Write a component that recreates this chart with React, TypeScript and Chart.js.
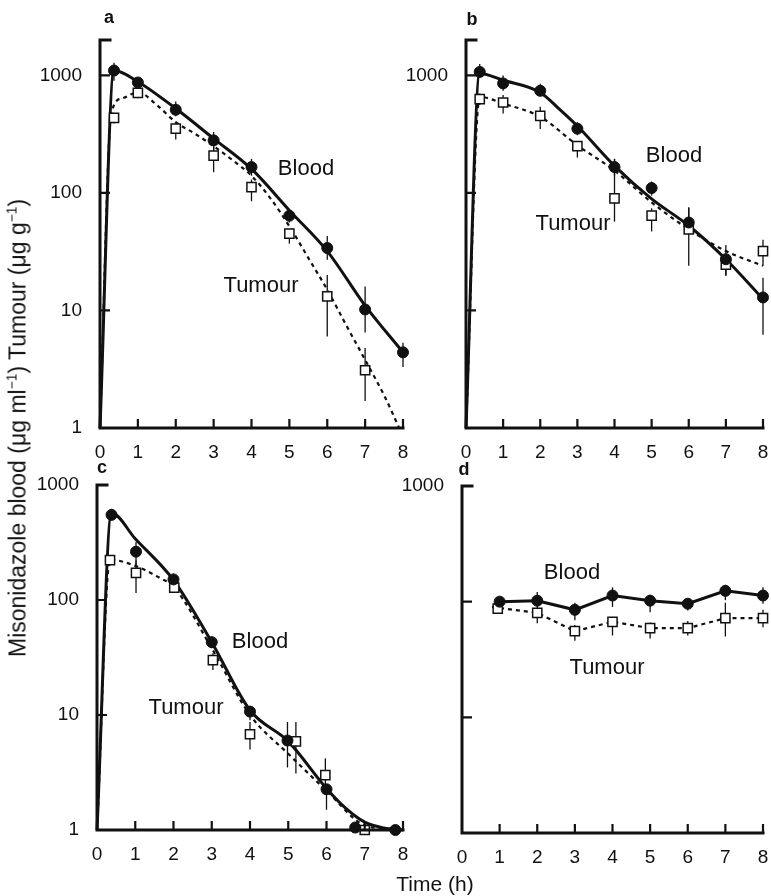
import React, { useEffect, useRef } from "react";
import { Chart, registerables } from "chart.js";
Chart.register(...registerables);

const INK = "#111";
const FONT = "'Liberation Sans', Arial, Helvetica, sans-serif";

const xTicks = [0, 1, 2, 3, 4, 5, 6, 7, 8];
const xTickLabels = ["0", "1", "2", "3", "4", "5", "6", "7", "8"];
const yTicks = [1, 10, 100, 1000];
const yLabelsFull = ["1", "10", "100", "1000"];
const yLabelsTop = ["", "", "", "1000"];

// ---- Panel a ----
const aBloodT = [0.37, 1, 2, 3, 4, 5, 6, 7, 8];
const aBlood = [1100, 870, 510, 280, 166, 64, 34, 10.2, 4.4];
const aBloodLo = [900, 800, 450, 230, 140, 56, 27, 6.5, 3.3];
const aBloodHi = [1280, 950, 600, 330, 195, 72, 43, 16, 5.3];
const aTumourT = [0.37, 1, 2, 3, 4, 5, 6, 7];
const aTumour = [435, 710, 352, 208, 112, 45, 13.2, 3.1];
const aTumourLo = [390, 640, 285, 150, 85, 37, 6, 1.7];
const aTumourHi = [480, 760, 390, 300, 130, 49, 20, 4.8];
const aBloodCurveT = [0, 0.37, 1, 2, 3, 4, 5, 6, 7, 8];
const aBloodCurve = [1, 1100, 884, 522, 290, 160, 71, 32, 11, 4.4];
const aTumourCurveT = [0, 0.3, 0.6, 1, 1.5, 2, 2.5, 3, 3.5, 4, 4.5, 5, 5.5, 6, 6.5, 7, 7.5, 7.9];
const aTumourCurve = [1, 480, 640, 720, 560, 400, 320, 250, 190, 140, 90, 52, 28, 15, 7.5, 3.8, 1.9, 1];

// ---- Panel b ----
const bBloodT = [0.37, 1, 2, 3, 4, 5, 6, 7, 8];
const bBlood = [1070, 855, 740, 352, 166, 110, 56, 27.3, 12.9];
const bBloodLo = [950, 740, 660, 310, 140, 95, 45, 19.6, 6.2];
const bBloodHi = [1250, 1000, 850, 400, 195, 125, 75, 36, 19];
const bTumourT = [0.37, 1, 2, 3, 4, 5, 6, 7, 8];
const bTumour = [628, 588, 452, 250, 90, 64, 49, 24.5, 32];
const bTumourLo = [560, 475, 350, 200, 57, 47, 24, 20, 24];
const bTumourHi = [700, 680, 540, 270, 195, 74, 75, 30, 40];
const bBloodCurveT = [0, 0.37, 1, 2, 2.5, 3, 4, 5, 6, 7, 8];
const bBloodCurve = [1, 1040, 910, 716, 522, 371, 170, 89, 52.6, 27.3, 12.5];
const bTumourCurveT = [0, 0.37, 1, 2, 3, 4, 5, 6, 7, 8];
const bTumourCurve = [1, 657, 576, 444, 254, 155, 83, 49, 32, 24];

// ---- Panel c ----
const cBloodT = [0.38, 1.02, 2, 3, 4, 4.98, 6, 6.75, 7.8];
const cBlood = [550, 263, 151, 43, 10.7, 6, 2.26, 1.05, 1.0];
const cBloodLo = [490, 200, 135, 38, 9, 3.5, 1.5, 1, 1];
const cBloodHi = [620, 320, 170, 48, 12, 8.7, 2.4, 1.1, 1.05];
const cTumourT = [0.34, 1.02, 2.02, 3.03, 4, 5.2, 5.97, 7];
const cTumour = [222, 172, 128, 30, 6.8, 5.9, 3.0, 1.0];
const cTumourLo = [200, 115, 115, 24.6, 5, 3.1, 2.1, 1];
const cTumourHi = [245, 220, 140, 34.5, 8.7, 8.7, 4.2, 1.1];
const cBloodCurveT = [0, 0.38, 1, 2, 3, 4, 5, 6, 6.5, 7, 7.5, 8];
const cBloodCurve = [1, 571, 341, 149, 43, 11, 5.9, 2.3, 1.55, 1.17, 1.04, 1.0];
const cTumourCurveT = [0, 0.34, 1, 1.65, 2, 3, 4, 5, 6, 7, 8];
const cTumourCurve = [1, 224, 198, 155, 131, 38, 10, 4.6, 2.2, 1.1, 1.0];

// ---- Panel d ----
const dBloodT = [1, 2, 3, 4, 5, 6, 7, 8];
const dBlood = [100, 102, 85, 113, 102, 96, 124, 113];
const dBloodLo = [92, 85, 69, 90, 81, 84, 103, 96];
const dBloodHi = [110, 121, 98, 133, 115, 106, 140, 133];
const dTumourT = [0.95, 2, 3, 4, 5, 6, 7, 8];
const dTumour = [87, 80, 55.6, 67, 59, 59, 72, 72];
const dTumourLo = [82, 65, 46, 51, 48, 51, 50, 60];
const dTumourHi = [92, 88, 63, 74, 66, 68, 98, 85];
const dBloodCurveT = [1, 2, 3, 4, 5, 6, 7, 8];
const dBloodCurve = [100, 102, 85, 113, 102, 96, 124, 113];
const dTumourCurveT = [0.8, 2, 3, 4, 5, 6, 7, 8];
const dTumourCurve = [90, 80, 55.6, 67, 59, 59, 72, 72];

const Y_AXIS_W = 60;
const X_AXIS_H = 30;

const panels = [
  {
    key: "a", yMax: 2000, yLabels: yLabelsFull, smooth: true,
    box: { left: 30, top: 0, width: 390, height: 460 },
    area: { L: 100, R: 403, T: 40, B: 428 },
    bloodT: aBloodT, blood: aBlood, bloodLo: aBloodLo, bloodHi: aBloodHi,
    tumourT: aTumourT, tumour: aTumour, tumourLo: aTumourLo, tumourHi: aTumourHi,
    bloodCurveT: aBloodCurveT, bloodCurve: aBloodCurve,
    tumourCurveT: aTumourCurveT, tumourCurve: aTumourCurve,
  },
  {
    key: "b", yMax: 2000, yLabels: yLabelsTop, smooth: true,
    box: { left: 400, top: 0, width: 371, height: 460 },
    area: { L: 466, R: 768, T: 40, B: 428 },
    bloodT: bBloodT, blood: bBlood, bloodLo: bBloodLo, bloodHi: bBloodHi,
    tumourT: bTumourT, tumour: bTumour, tumourLo: bTumourLo, tumourHi: bTumourHi,
    bloodCurveT: bBloodCurveT, bloodCurve: bBloodCurve,
    tumourCurveT: bTumourCurveT, tumourCurve: bTumourCurve,
  },
  {
    key: "c", yMax: 1000, yLabels: yLabelsFull, smooth: true,
    box: { left: 30, top: 460, width: 390, height: 436 },
    area: { L: 97, R: 403, T: 485, B: 830 },
    bloodT: cBloodT, blood: cBlood, bloodLo: cBloodLo, bloodHi: cBloodHi,
    tumourT: cTumourT, tumour: cTumour, tumourLo: cTumourLo, tumourHi: cTumourHi,
    bloodCurveT: cBloodCurveT, bloodCurve: cBloodCurve,
    tumourCurveT: cTumourCurveT, tumourCurve: cTumourCurve,
  },
  {
    key: "d", yMax: 1000, yLabels: yLabelsTop, smooth: false,
    box: { left: 400, top: 460, width: 371, height: 436 },
    area: { L: 462, R: 765, T: 486, B: 833 },
    bloodT: dBloodT, blood: dBlood, bloodLo: dBloodLo, bloodHi: dBloodHi,
    tumourT: dTumourT, tumour: dTumour, tumourLo: dTumourLo, tumourHi: dTumourHi,
    bloodCurveT: dBloodCurveT, bloodCurve: dBloodCurve,
    tumourCurveT: dTumourCurveT, tumourCurve: dTumourCurve,
  },
];

const annotations = [
  { text: "a", x: 109, y: 17, bold: true, size: 18 },
  { text: "b", x: 472, y: 19, bold: true, size: 18 },
  { text: "c", x: 102, y: 467, bold: true, size: 18 },
  { text: "d", x: 464, y: 469, bold: true, size: 18 },
  { text: "Blood", x: 306, y: 168, size: 22 },
  { text: "Tumour", x: 261, y: 285, size: 22 },
  { text: "Blood", x: 674, y: 155, size: 22 },
  { text: "Tumour", x: 573, y: 223, size: 22 },
  { text: "Blood", x: 260, y: 641, size: 22 },
  { text: "Tumour", x: 186, y: 707, size: 22 },
  { text: "Blood", x: 572, y: 572, size: 22 },
  { text: "Tumour", x: 607, y: 667, size: 22 },
  { text: "Time (h)", x: 435, y: 883, size: 21 },
];

const pts = (t: number[], v: number[]) => t.map((x, i) => ({ x, y: v[i] }));

const sciPlugin = {
  id: "sciAxes",
  beforeDatasetsDraw(chart: any) {
    const { ctx, scales } = chart;
    const y = scales.y;
    ctx.save();
    ctx.strokeStyle = INK;
    ctx.lineWidth = 1.3;
    chart.data.datasets.forEach((ds: any, i: number) => {
      if (!ds.errLo) return;
      const meta = chart.getDatasetMeta(i);
      meta.data.forEach((pt: any, j: number) => {
        const lo = y.getPixelForValue(ds.errLo[j]);
        const hi = y.getPixelForValue(ds.errHi[j]);
        ctx.beginPath();
        ctx.moveTo(pt.x, lo);
        ctx.lineTo(pt.x, hi);
        ctx.stroke();
      });
    });
    ctx.restore();
  },
  afterDraw(chart: any) {
    const { ctx, chartArea: a, scales } = chart;
    const x = scales.x;
    const y = scales.y;
    ctx.save();
    ctx.strokeStyle = INK;
    ctx.lineCap = "square";
    ctx.lineWidth = 3;
    ctx.beginPath();
    ctx.moveTo(a.left + 10, a.top);
    ctx.lineTo(a.left, a.top);
    ctx.lineTo(a.left, a.bottom);
    ctx.lineTo(a.right, a.bottom);
    ctx.stroke();
    ctx.lineCap = "butt";
    ctx.lineWidth = 2.2;
    ctx.beginPath();
    for (const v of yTicks.slice(1)) {
      const py = y.getPixelForValue(v);
      ctx.moveTo(a.left, py);
      ctx.lineTo(a.left + 10, py);
    }
    for (const v of xTicks.slice(1)) {
      const px = x.getPixelForValue(v);
      ctx.moveTo(px, a.bottom);
      ctx.lineTo(px, a.bottom - 9);
    }
    ctx.stroke();
    ctx.restore();
  },
};

function Panel({ p }: { p: any }) {
  const ref = useRef<HTMLCanvasElement | null>(null);
  useEffect(() => {
    const canvas = ref.current;
    if (!canvas) return;
    const pad = {
      left: p.area.L - p.box.left - Y_AXIS_W,
      top: p.area.T - p.box.top,
      right: p.box.left + p.box.width - p.area.R,
      bottom: p.box.top + p.box.height - p.area.B - X_AXIS_H,
    };
    const curveOpts = p.smooth
      ? { cubicInterpolationMode: "monotone" }
      : { tension: 0 };
    const chart = new Chart(canvas, {
      type: "line",
      data: {
        datasets: [
          {
            data: pts(p.bloodT, p.blood),
            showLine: false,
            pointStyle: "circle",
            pointRadius: 5.5,
            pointBackgroundColor: INK,
            pointBorderColor: INK,
            pointBorderWidth: 1,
            clip: false,
            errLo: p.bloodLo,
            errHi: p.bloodHi,
          } as any,
          {
            data: pts(p.tumourT, p.tumour),
            showLine: false,
            pointStyle: "rect",
            pointRadius: 6.5,
            pointBackgroundColor: "#fff",
            pointBorderColor: INK,
            pointBorderWidth: 1.5,
            clip: false,
            errLo: p.tumourLo,
            errHi: p.tumourHi,
          } as any,
          {
            data: pts(p.bloodCurveT, p.bloodCurve),
            borderColor: INK,
            borderWidth: 3,
            pointRadius: 0,
            fill: false,
            clip: 4,
            ...curveOpts,
          } as any,
          {
            data: pts(p.tumourCurveT, p.tumourCurve),
            borderColor: INK,
            borderWidth: 2.2,
            borderDash: [4, 4],
            pointRadius: 0,
            fill: false,
            clip: 4,
            ...curveOpts,
          } as any,
        ],
      },
      options: {
        animation: false,
        responsive: false,
        maintainAspectRatio: false,
        events: [],
        layout: { padding: pad },
        plugins: { legend: { display: false }, tooltip: { enabled: false } },
        scales: {
          x: {
            type: "linear",
            min: 0,
            max: 8,
            grid: { display: false },
            border: { display: false },
            ticks: {
              color: INK,
              font: { size: 19, family: FONT },
              padding: 5,
              maxRotation: 0,
              autoSkip: false,
              callback: (v: any) => {
                const i = xTicks.indexOf(Number(v));
                return i >= 0 ? xTickLabels[i] : "";
              },
            },
            afterBuildTicks: (s: any) => {
              s.ticks = xTicks.map((v) => ({ value: v }));
            },
            afterFit: (s: any) => {
              s.height = X_AXIS_H;
              s.paddingLeft = 0;
              s.paddingRight = 0;
              s.paddingTop = 0;
              s.paddingBottom = 0;
            },
          },
          y: {
            type: "logarithmic",
            min: 1,
            max: p.yMax,
            grid: { display: false },
            border: { display: false },
            ticks: {
              color: INK,
              font: { size: 19, family: FONT },
              padding: 10,
              autoSkip: false,
              callback: (v: any) => {
                const i = yTicks.indexOf(Number(v));
                return i >= 0 ? p.yLabels[i] : "";
              },
            },
            afterBuildTicks: (s: any) => {
              s.ticks = yTicks.map((v) => ({ value: v }));
            },
            afterFit: (s: any) => {
              s.width = Y_AXIS_W;
              s.paddingLeft = 0;
              s.paddingRight = 0;
              s.paddingTop = 0;
              s.paddingBottom = 0;
            },
          },
        },
      } as any,
      plugins: [sciPlugin],
    });
    return () => chart.destroy();
  }, [p]);
  return (
    <canvas
      ref={ref}
      width={p.box.width}
      height={p.box.height}
      style={{
        position: "absolute",
        left: p.box.left,
        top: p.box.top,
        width: p.box.width,
        height: p.box.height,
      }}
    />
  );
}

export default function App() {
  return (
    <div
      style={{
        position: "absolute",
        left: 0,
        top: 0,
        width: 771,
        height: 896,
        overflow: "hidden",
        background: "#fff",
        fontFamily: FONT,
        color: INK,
      }}
    >
      {panels.map((p) => (
        <Panel key={p.key} p={p} />
      ))}
      {annotations.map((a, i) => (
        <div
          key={i}
          style={{
            position: "absolute",
            left: a.x,
            top: a.y,
            transform: "translate(-50%, -50%)",
            fontSize: a.size,
            fontWeight: a.bold ? "bold" : "normal",
            lineHeight: 1,
            whiteSpace: "nowrap",
          }}
        >
          {a.text}
        </div>
      ))}
      <div
        style={{
          position: "absolute",
          left: 18,
          top: 428,
          transform: "translate(-50%, -50%) rotate(-90deg)",
          fontSize: 23,
          lineHeight: 1,
          whiteSpace: "nowrap",
        }}
      >
        Misonidazole blood (μg ml
        <sup style={{ fontSize: "0.6em", lineHeight: 0 }}>−1</sup>) Tumour (μg g
        <sup style={{ fontSize: "0.6em", lineHeight: 0 }}>−1</sup>)
      </div>
    </div>
  );
}
